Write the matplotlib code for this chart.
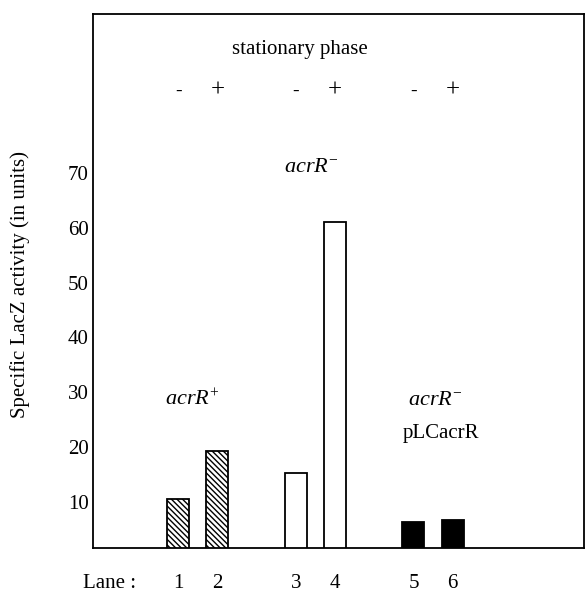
import matplotlib
matplotlib.use("Agg")
import matplotlib.pyplot as plt

# lane data
lanes = [1, 2, 3, 4, 5, 6]
positions = [1, 2, 4, 5, 7, 8]
activity = [10.5, 19.3, 15.3, 61.1, 6.2, 6.6]
treatment = ["-", "+", "-", "+", "-", "+"]
yticks = [10, 20, 30, 40, 50, 60, 70]

plt.rcParams["font.family"] = ["Liberation Serif", "DejaVu Serif"]
plt.rcParams["mathtext.fontset"] = "custom"
plt.rcParams["mathtext.rm"] = "Liberation Serif"
plt.rcParams["mathtext.it"] = "Liberation Serif:italic"
plt.rcParams["mathtext.bf"] = "Liberation Serif:bold"
plt.rcParams["hatch.linewidth"] = 1.0

fig = plt.figure(figsize=(5.86, 5.92), dpi=100)
ax = fig.add_axes([0.1587, 0.074, 0.838, 0.902])

fills = ["white", "white", "white", "white", "black", "black"]
hatches = ["\\\\\\\\\\\\", "\\\\\\\\\\\\", None, None, None, None]
for p, v, fc, h in zip(positions, activity, fills, hatches):
    ax.bar(p, v, width=0.56, color=fc, edgecolor="black", linewidth=1.3,
           hatch=h, zorder=2)

ax.set_xlim(-1.17, 11.35)
ax.set_ylim(1.5, 99)
ax.set_xticks([])
ax.set_yticks(yticks)
ax.set_yticklabels([str(t) for t in yticks], fontsize=15)
ax.tick_params(axis="y", length=0, pad=3)
for s in ax.spines.values():
    s.set_linewidth(1.3)

# treatment signs and header
for p, t in zip(positions, treatment):
    ax.text(p, 85, t, ha="center", va="center", fontsize=18 if t == "+" else 14)
ax.text(4.1, 92.5, "stationary phase", ha="center", va="center", fontsize=15)

# strain labels
ax.text(4.4, 71, r"$\mathit{acrR}^{-}$", ha="center", va="center", fontsize=16)
ax.text(1.35, 28.5, r"$\mathit{acrR}^{+}$", ha="center", va="center", fontsize=16)
ax.text(7.55, 28.5, r"$\mathit{acrR}^{-}$", ha="center", va="center", fontsize=16)
ax.text(7.7, 22.5, "pLCacrR", ha="center", va="center", fontsize=15)

# lane numbers below axis
for p, n in zip(positions, lanes):
    ax.text(p, -4.9, str(n), ha="center", va="center", fontsize=15, clip_on=False)
ax.text(-0.75, -4.9, "Lane :", ha="center", va="center", fontsize=15, clip_on=False)

fig.text(0.035, 0.52, "Specific LacZ activity (in units)", rotation=90,
         ha="center", va="center", fontsize=15)

fig.savefig("out.png", dpi=100)
